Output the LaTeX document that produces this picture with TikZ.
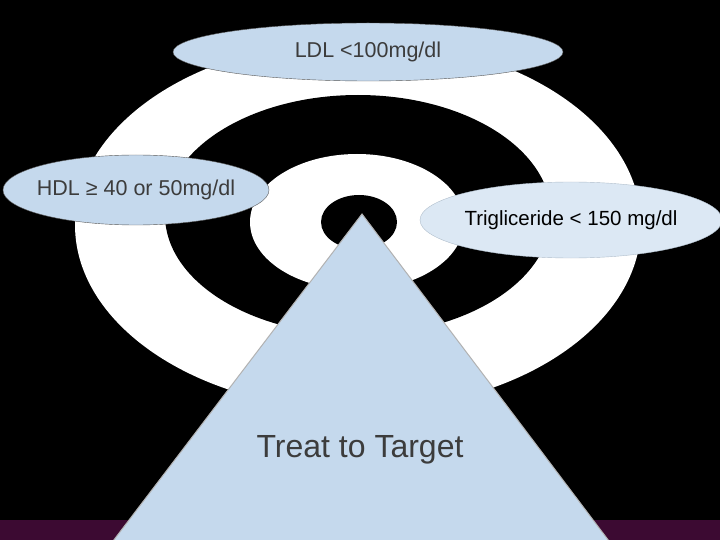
\documentclass[tikz,border=0pt]{standalone}
\usepackage{fontspec}
\setmainfont{Liberation Sans}
\usetikzlibrary{shapes.geometric}
\definecolor{paleblue}{RGB}{197,217,237}
\definecolor{plum}{RGB}{60,10,50}
\definecolor{inkgray}{RGB}{60,60,60}
\begin{document}
\begin{tikzpicture}[x=1pt, y=-1pt,
    goal/.style = {draw=gray!70!black, ellipse, fill=paleblue, inner sep=0pt, text=inkgray},
    ring/.style = {fill=#1}]
    \useasboundingbox (0,0) rectangle (720,540);
    \clip (0,0) rectangle (720,540);
    \fill[black] (0,0) rectangle (720,540);
    \fill[plum] (0,520) rectangle (720,540);
    % target rings
    \fill[ring=white] (358,225) ellipse (283 and 185);
    \fill[ring=black] (358,215) ellipse (193 and 120);
    \fill[ring=white] (357,222) ellipse (107 and 68);
    \fill[ring=black] (359,222) ellipse (38 and 27);
    % arrow
    \coordinate (apex) at (362,214);
    \coordinate (bl) at (110,545);
    \coordinate (br) at (612,545);
    \draw[gray!60, fill=paleblue, line width=1pt] (apex) -- (br) -- (bl) -- cycle;
    \node[text=inkgray] (treat) at (360,450) {\fontsize{32}{34}\selectfont Treat to Target};
    % goals
    \node[goal, minimum width=390, minimum height=58] (ldl) at (368,52)
        {\fontsize{21.5}{23}\selectfont LDL <100mg/dl};
    \node[goal, minimum width=266, minimum height=70, inner xsep=-40pt] (hdl) at (136,190)
        {\fontsize{21.5}{23}\selectfont HDL ≥ 40 or 50mg/dl};
    \node[goal, text=black, fill=paleblue!60, draw=paleblue!70!gray, minimum width=302, minimum height=76, inner xsep=-30pt] (tg) at (571,220)
        {\fontsize{20.5}{22}\selectfont Trigliceride < 150 mg/dl};
\end{tikzpicture}
\end{document}
